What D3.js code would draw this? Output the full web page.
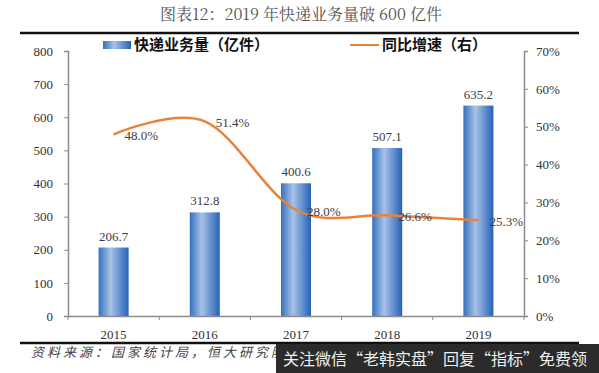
<!DOCTYPE html>
<html><head><meta charset="utf-8">
<script src="https://cdn.jsdelivr.net/npm/d3@7/dist/d3.min.js"></script>
<style>
body{margin:0;background:#fff;}
svg{display:block;}
</style></head>
<body>
<svg id="chart" width="599" height="373"></svg>
<script>
const years = ["2015","2016","2017","2018","2019"];
const volume = [206.7, 312.8, 400.6, 507.1, 635.2];
const growth = [48.0, 51.4, 28.0, 26.6, 25.3];
const leftTicks = [0,100,200,300,400,500,600,700,800];
const rightTicks = [0,10,20,30,40,50,60,70];
const titleText = "图表12：2019 年快递业务量破 600 亿件";
const legendBar = "快递业务量（亿件）";
const legendLine = "同比增速（右）";
const sourceText = "资料来源：国家统计局，恒大研究院";
const watermarkText = "关注微信“老韩实盘”回复“指标”免费领";

const svg = d3.select("#chart");
const serif = "'Liberation Serif','Times New Roman',serif";
const cjk = "'Noto Sans CJK SC','Noto Sans',sans-serif";

const x0 = 68, x1 = 524, yTop = 51, yBot = 316;
const x = d3.scaleBand().domain(years).range([x0, x1]).paddingInner(0).paddingOuter(0);
const yL = d3.scaleLinear().domain([0, 800]).range([yBot, yTop]);
const yR = d3.scaleLinear().domain([0, 70]).range([yBot, yTop]);

// gradient
const defs = svg.append("defs");
const g = defs.append("linearGradient").attr("id","barGrad").attr("x1","0").attr("x2","1").attr("y1","0").attr("y2","0");
g.append("stop").attr("offset","0").attr("stop-color","#3470c0");
g.append("stop").attr("offset","0.4").attr("stop-color","#a8c2e6");
g.append("stop").attr("offset","1").attr("stop-color","#2462b8");

// title
svg.append("text").attr("x", 301).attr("y", 20).attr("text-anchor","middle")
  .attr("font-family", "'Noto Serif CJK SC','Liberation Serif',"+cjk).attr("font-size", 16).attr("fill","#555")
  .text(titleText);
svg.append("line").attr("x1",20).attr("x2",579).attr("y1",33).attr("y2",33).attr("stroke","#111").attr("stroke-width",2.5);

// bars
const bw = 30;
svg.append("g").selectAll("rect").data(volume).join("rect")
  .attr("x",(d,i)=>x(years[i]) + x.bandwidth()/2 - bw/2)
  .attr("y",d=>yL(d)).attr("width",bw).attr("height",d=>yBot - yL(d))
  .attr("fill","url(#barGrad)");
svg.append("g").selectAll("text").data(volume).join("text")
  .attr("x",(d,i)=>x(years[i]) + x.bandwidth()/2)
  .attr("y",d=>yL(d)-7).attr("text-anchor","middle")
  .attr("font-family",serif).attr("font-size",13).attr("fill","#404040")
  .text(d=>d.toFixed(1));

// axes
const axisColor = "#8c8c8c";
const gl = svg.append("g").attr("transform",`translate(${x0},0)`)
  .call(d3.axisLeft(yL).tickValues(leftTicks).tickSize(4).tickPadding(11));
const gr = svg.append("g").attr("transform",`translate(${x1},0)`)
  .call(d3.axisRight(yR).tickValues(rightTicks).tickSize(4).tickPadding(8).tickFormat(d=>d+"%"));
const gb = svg.append("g").attr("transform",`translate(0,${yBot})`)
  .call(d3.axisBottom(x).tickSize(0).tickPadding(14));
[gl,gr,gb].forEach(a=>{
  a.select(".domain").attr("stroke",axisColor).attr("stroke-width",1.5);
  a.selectAll(".tick line").attr("stroke",axisColor).attr("stroke-width",1);
  a.selectAll("text").attr("font-family",serif).attr("font-size",13).attr("fill","#333");
});
// category boundary ticks
svg.append("g").selectAll("line").data(years.concat(["end"])).join("line")
  .attr("x1",(d,i)=> i<years.length ? x(d) : x1).attr("x2",(d,i)=> i<years.length ? x(d) : x1)
  .attr("y1",yBot).attr("y2",yBot+4).attr("stroke",axisColor).attr("stroke-width",1);

// line
const pts = growth.map((v,i)=>[x(years[i]) + x.bandwidth()/2, yR(v)]);
svg.append("path").datum(pts)
  .attr("d", d3.line().curve(d3.curveCardinal.tension(0)))
  .attr("fill","none").attr("stroke","#e8833a").attr("stroke-width",2.5);
svg.append("g").selectAll("text").data(growth).join("text")
  .attr("x",(d,i)=>pts[i][0]+11).attr("y",(d,i)=>pts[i][1]+6)
  .attr("font-family",serif).attr("font-size",13).attr("fill","#404040")
  .text(d=>d.toFixed(1)+"%");

// legend
svg.append("rect").attr("x",103).attr("y",41).attr("width",28).attr("height",8).attr("fill","url(#barGrad)");
svg.append("text").attr("x",134).attr("y",50).attr("font-family",cjk).attr("font-weight","bold")
  .attr("font-size",15).attr("fill","#111").text(legendBar);
svg.append("line").attr("x1",350).attr("x2",379).attr("y1",45).attr("y2",45).attr("stroke","#e8833a").attr("stroke-width",2);
svg.append("text").attr("x",382).attr("y",50).attr("font-family",cjk).attr("font-weight","bold")
  .attr("font-size",15).attr("fill","#111").text(legendLine);

// bottom rule and source
svg.append("line").attr("x1",20).attr("x2",579).attr("y1",343).attr("y2",343).attr("stroke","#111").attr("stroke-width",2.5);
svg.append("text").attr("x",31).attr("y",357).attr("font-family",cjk).attr("font-style","italic")
  .attr("font-size",13).attr("letter-spacing",3).attr("fill","#444").text(sourceText);

// watermark overlay
svg.append("rect").attr("x",276).attr("y",344).attr("width",323).attr("height",29).attr("fill","#2b2b2b");
svg.append("text").attr("x",283).attr("y",365).attr("font-family",cjk)
  .attr("font-size",16).attr("fill","#f0f0f0").text(watermarkText);
</script>
</body></html>
